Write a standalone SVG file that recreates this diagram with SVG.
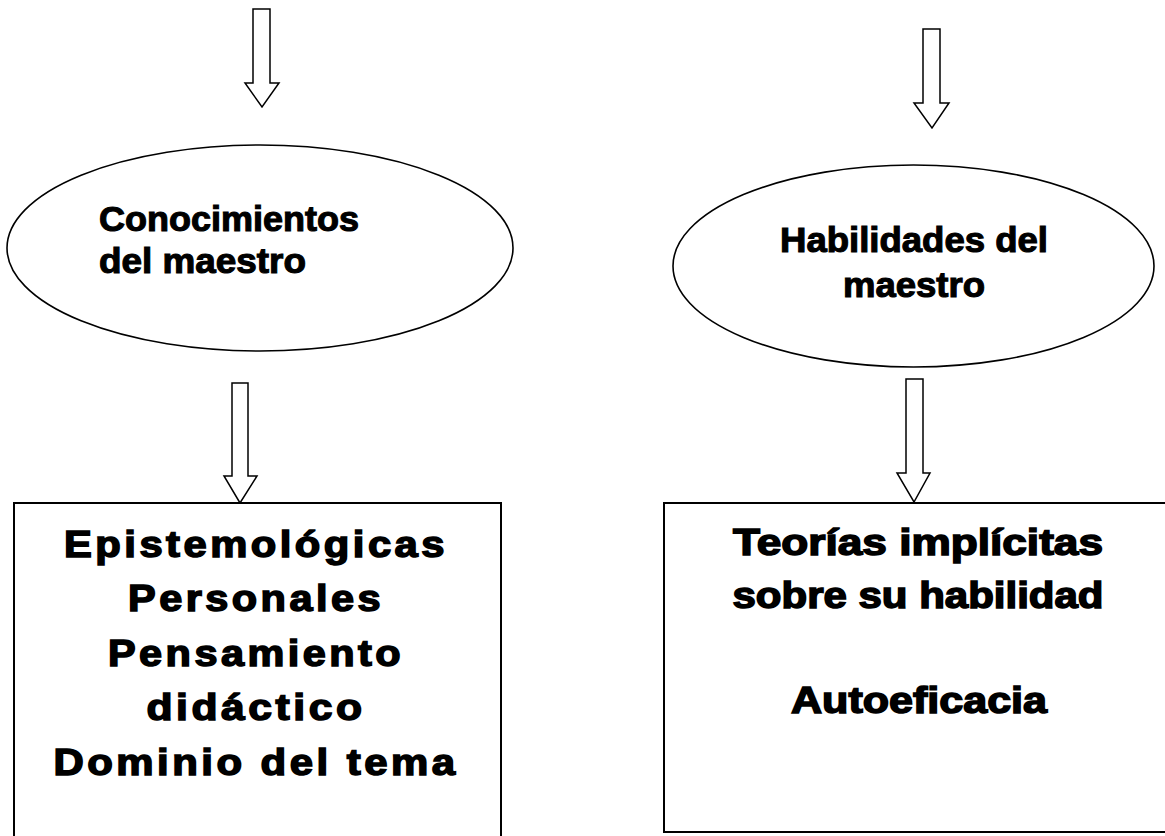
<svg xmlns="http://www.w3.org/2000/svg" width="1165" height="836" viewBox="0 0 1165 836">
  <style>
    .shape { fill: #ffffff; stroke: #000000; stroke-width: 1.6; }
    .box { fill: #ffffff; stroke: #000000; stroke-width: 2; }
    .arrow { fill: #ffffff; stroke: #000000; stroke-width: 1.5; stroke-linejoin: miter; }
    .lbl { font-family: "Liberation Sans", Arial, sans-serif; font-weight: bold; font-size: 35px; fill: #000000; stroke: #000000; stroke-width: 1.1; }
    .boxlbl { font-family: "Liberation Sans", Arial, sans-serif; font-weight: bold; font-size: 36px; fill: #000000; stroke: #000000; stroke-width: 1.5; text-anchor: middle; }
  </style>
  <rect x="0" y="0" width="1165" height="836" fill="#ffffff"/>

  <g id="connectors">
    <polygon class="arrow" points="253,9 270,9 270,83 279,83 262,107 245,83 253,83"/>
    <polygon class="arrow" points="232,383 248,383 248,476 257,476 240,503 224,476 232,476"/>
    <polygon class="arrow" points="923,29 940,29 940,103 949,103 932,128 914,103 923,103"/>
    <polygon class="arrow" points="906,379 923,379 923,473 930,473 914,502 897,473 906,473"/>
  </g>

  <g id="node-conocimientos">
    <ellipse class="shape" cx="260" cy="248" rx="253" ry="103"/>
    <text class="lbl" x="99" y="231" textLength="260" lengthAdjust="spacingAndGlyphs">Conocimientos</text>
    <text class="lbl" x="99" y="273" textLength="207" lengthAdjust="spacingAndGlyphs">del maestro</text>
  </g>

  <g id="node-habilidades">
    <ellipse class="shape" cx="913.5" cy="266" rx="240.5" ry="101"/>
    <text class="lbl" x="914" y="252" text-anchor="middle" textLength="268" lengthAdjust="spacingAndGlyphs">Habilidades del</text>
    <text class="lbl" x="914" y="297" text-anchor="middle" textLength="142" lengthAdjust="spacingAndGlyphs">maestro</text>
  </g>

  <g id="node-epistemologicas">
    <rect class="box" x="14" y="503" width="487" height="345"/>
    <text class="boxlbl" x="256" y="557" letter-spacing="3" textLength="384" lengthAdjust="spacingAndGlyphs">Epistemológicas</text>
    <text class="boxlbl" x="256" y="611" letter-spacing="3" textLength="256" lengthAdjust="spacingAndGlyphs">Personales</text>
    <text class="boxlbl" x="256" y="666" letter-spacing="3" textLength="296" lengthAdjust="spacingAndGlyphs">Pensamiento</text>
    <text class="boxlbl" x="256" y="720" letter-spacing="3" textLength="219" lengthAdjust="spacingAndGlyphs">didáctico</text>
    <text class="boxlbl" x="256" y="775" letter-spacing="3" textLength="405" lengthAdjust="spacingAndGlyphs">Dominio del tema</text>
  </g>

  <g id="node-teorias">
    <rect class="box" x="664" y="503" width="520" height="329"/>
    <text class="boxlbl" x="918" y="555" textLength="370" lengthAdjust="spacingAndGlyphs">Teorías implícitas</text>
    <text class="boxlbl" x="918" y="608" textLength="371" lengthAdjust="spacingAndGlyphs">sobre su habilidad</text>
    <text class="boxlbl" x="919" y="713" textLength="256" lengthAdjust="spacingAndGlyphs">Autoeficacia</text>
  </g>
</svg>
